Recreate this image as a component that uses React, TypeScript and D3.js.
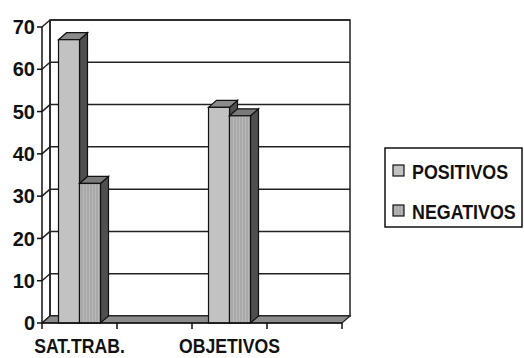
import React from 'react'
import * as d3 from 'd3'

const width = 524
const height = 358
const categories = ['SAT.TRAB.', ' ', 'OBJETIVOS', '  ']
const seriesNames = ['POSITIVOS', 'NEGATIVOS']
const positivos = [67, 0, 51, 0]
const negativos = [33, 0, 49, 0]
const yTicks = [0, 10, 20, 30, 40, 50, 60, 70]

const plot = { left: 42, right: 342, top: 27, bottom: 323 }
const depth = { dx: 8, dy: -7 }
const font = '"Liberation Sans", Arial, sans-serif'

const App = () => {
    const x0 = d3
        .scaleBand<string>()
        .domain(categories)
        .range([plot.left, plot.right])
    const x1 = d3
        .scaleBand<string>()
        .domain(seriesNames)
        .range([0, x0.bandwidth()])
        .paddingOuter(0.786)
    const y = d3.scaleLinear().domain([0, 70]).range([plot.bottom, plot.top])

    const values = [positivos, negativos]
    const { dx, dy } = depth
    const fills = ['#c2c2c2', 'url(#stripes)']
    const tops = ['#8a8a8a', '#7a7a7a']

    const bars = categories.flatMap((c, i) =>
        seriesNames.map((s, j) => ({
            key: c + s,
            x: (x0(c) as number) + (x1(s) as number),
            w: x1.bandwidth(),
            v: values[j][i],
            j,
        }))
    ).filter((b) => b.v > 0)

    const y0 = y(0)
    const y70 = y(70)

    return (
        <svg
            width={width}
            height={height}
            style={{ position: 'absolute', left: 0, top: 0, background: '#fff' }}
        >
            <defs>
                <pattern
                    id="stripes"
                    width={3}
                    height={4}
                    patternUnits="userSpaceOnUse"
                >
                    <rect width={3} height={4} fill="#b8b8b8" />
                    <line x1={1} y1={0} x2={1} y2={4} stroke="#9a9a9a" strokeWidth={1} />
                </pattern>
            </defs>

            {/* back wall */}
            <rect
                x={plot.left + dx}
                y={y70 + dy}
                width={plot.right - plot.left}
                height={y0 - y70}
                fill="#fff"
                stroke="#222"
                strokeWidth={1.5}
            />
            {yTicks.map((t) => (
                <g key={'g' + t}>
                    <line
                        x1={plot.left + dx}
                        x2={plot.right + dx}
                        y1={y(t) + dy}
                        y2={y(t) + dy}
                        stroke="#222"
                        strokeWidth={1.5}
                    />
                    <line
                        x1={plot.left}
                        x2={plot.left + dx}
                        y1={y(t)}
                        y2={y(t) + dy}
                        stroke="#222"
                        strokeWidth={1.5}
                    />
                </g>
            ))}
            {/* left wall edge */}
            <line
                x1={plot.left + dx}
                x2={plot.left + dx}
                y1={y70 + dy}
                y2={y0 + dy}
                stroke="#222"
                strokeWidth={1.5}
            />
            {/* floor */}
            <polygon
                points={[
                    [plot.left, y0],
                    [plot.right, y0],
                    [plot.right + dx, y0 + dy],
                    [plot.left + dx, y0 + dy],
                ].join(' ')}
                fill="#8c8c8c"
                stroke="#222"
                strokeWidth={1.2}
            />

            {/* bars */}
            {bars.map((b) => {
                const top = y(b.v)
                return (
                    <g key={b.key} stroke="#111" strokeWidth={1.2}>
                        <polygon
                            points={[
                                [b.x + b.w, top],
                                [b.x + b.w + dx, top + dy],
                                [b.x + b.w + dx, y0 + dy],
                                [b.x + b.w, y0],
                            ].join(' ')}
                            fill="#4f4f4f"
                        />
                        <polygon
                            points={[
                                [b.x, top],
                                [b.x + dx, top + dy],
                                [b.x + b.w + dx, top + dy],
                                [b.x + b.w, top],
                            ].join(' ')}
                            fill={tops[b.j]}
                        />
                        <rect
                            x={b.x}
                            y={top}
                            width={b.w}
                            height={y0 - top}
                            fill={fills[b.j]}
                        />
                    </g>
                )
            })}

            {/* axes */}
            <line x1={plot.left} x2={plot.left} y1={y70} y2={y0} stroke="#111" strokeWidth={1.5} />
            <line x1={plot.left} x2={plot.right} y1={y0} y2={y0} stroke="#111" strokeWidth={1.5} />
            {yTicks.map((t) => (
                <g key={'t' + t}>
                    <line
                        x1={plot.left - 5}
                        x2={plot.left}
                        y1={y(t)}
                        y2={y(t)}
                        stroke="#111"
                        strokeWidth={1.5}
                    />
                    <text
                        x={plot.left - 7}
                        y={y(t)}
                        dy="0.36em"
                        textAnchor="end"
                        fontFamily={font}
                        fontWeight="bold"
                        fontSize={20}
                        fill="#111"
                    >
                        {t}
                    </text>
                </g>
            ))}
            {categories.map((c) => (
                <line
                    key={'xt' + c}
                    x1={(x0(c) as number) + x0.bandwidth()}
                    x2={(x0(c) as number) + x0.bandwidth()}
                    y1={y0}
                    y2={y0 + 6}
                    stroke="#111"
                    strokeWidth={1.5}
                />
            ))}
            <line x1={plot.left} x2={plot.left} y1={y0} y2={y0 + 6} stroke="#111" strokeWidth={1.5} />
            {categories.map((c) => (
                <g
                    key={'xl' + c}
                    transform={`translate(${(x0(c) as number) + x0.bandwidth() / 2}, 353) scale(0.84, 1)`}
                >
                    <text
                        textAnchor="middle"
                        fontFamily={font}
                        fontWeight="bold"
                        fontSize={21}
                        fill="#111"
                    >
                        {c.trim()}
                    </text>
                </g>
            ))}

            {/* legend */}
            <rect x={385} y={148} width={137} height={79} fill="#fff" stroke="#111" strokeWidth={1.5} />
            {seriesNames.map((s, j) => (
                <g key={'lg' + s} transform={`translate(393, ${171 + j * 40})`}>
                    <rect x={0} y={-6} width={11} height={11} fill={fills[j]} stroke="#111" strokeWidth={1.2} />
                    <g transform="translate(19, 0) scale(0.85, 1)">
                        <text
                            x={0}
                            y={0}
                            dy="0.36em"
                            fontFamily={font}
                            fontWeight="bold"
                            fontSize={21}
                            fill="#111"
                        >
                            {s}
                        </text>
                    </g>
                </g>
            ))}
        </svg>
    )
}

export default App
